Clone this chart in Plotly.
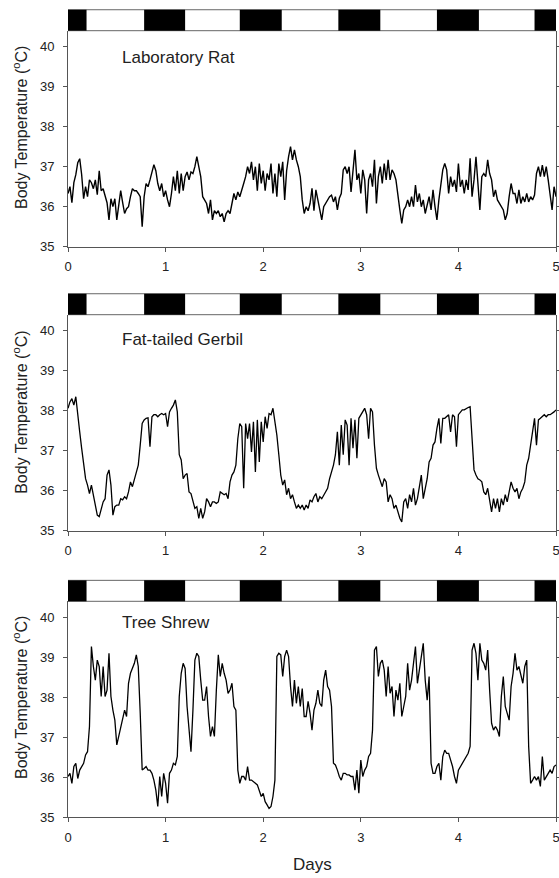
import plotly.graph_objects as go

# ---------------- data ----------------
days = [round(i * 0.02, 2) for i in range(251)]

rat_tb = [
    36.33, 36.5, 36.1, 36.6, 36.8, 37.1, 37.2, 36.8, 36.2, 36.5,
    36.25, 36.67, 36.6, 36.45, 36.67, 36.3, 36.9, 36.4, 36.45, 36.3,
    36.1, 35.67, 36.2, 36.0, 36.2, 35.67, 36.1, 36.4, 36.1, 35.83,
    35.95, 36.0, 36.25, 36.45, 36.4, 36.4, 36.33, 36.25, 35.5, 36.25,
    36.58, 36.5, 36.67, 36.9, 37.05, 36.9, 36.58, 36.4, 36.58, 36.25,
    36.4, 36.17, 36.0, 36.33, 36.75, 36.4, 36.9, 36.33, 36.83, 36.4,
    36.75, 36.87, 36.67, 36.87, 36.83, 37.0, 37.25, 37.0, 36.75, 36.25,
    36.17, 36.08, 35.83, 36.17, 35.67, 35.9, 35.83, 35.9, 35.75, 35.83,
    35.62, 35.83, 35.9, 35.83, 36.08, 36.33, 36.17, 36.37, 36.25, 36.45,
    36.58, 36.75, 37.0, 36.83, 37.12, 36.67, 37.0, 36.4, 37.08, 36.58,
    36.9, 36.4, 36.83, 36.67, 37.08, 36.33, 36.83, 36.25, 37.08, 36.75,
    37.12, 36.17, 36.9, 37.25, 37.5, 37.17, 37.42, 37.17, 37.0, 36.75,
    36.17, 35.83, 36.0, 35.9, 36.08, 36.46, 35.9, 36.42, 36.17, 35.83,
    35.67, 36.0, 36.08, 36.17, 36.25, 36.29, 36.12, 36.25, 35.92, 36.21,
    36.33, 36.92, 37.0, 36.83, 37.0, 36.37, 36.92, 37.42, 36.67, 36.83,
    36.33, 36.92, 36.67, 35.83, 36.67, 36.83, 36.5, 37.17, 36.08, 36.75,
    37.0, 36.58, 37.08, 36.67, 37.17, 36.67, 36.92, 36.83, 36.67, 36.25,
    35.92, 35.58, 35.92, 36.0, 36.17, 36.0, 36.25, 36.0, 36.54, 36.12,
    36.33, 36.0, 36.17, 35.83, 36.04, 36.25, 35.92, 36.42, 36.0, 35.67,
    36.17, 36.5, 36.92, 37.08, 36.92, 36.33, 36.75, 36.5, 36.67, 36.37,
    37.08, 36.5, 36.67, 36.33, 36.67, 36.42, 37.21, 36.25, 36.67, 37.25,
    36.58, 35.92, 36.75, 36.83, 36.75, 37.17, 36.83, 36.67, 36.25, 36.42,
    36.17, 36.08, 36.0, 35.92, 35.67, 35.83, 36.25, 36.58, 36.33, 36.33,
    36.08, 36.42, 36.08, 36.25, 36.12, 36.33, 36.12, 36.25, 36.17, 36.29,
    36.83, 37.0, 36.75, 37.04, 36.75, 37.0, 36.67, 36.33, 35.92, 36.5,
    36.25,
]

gerbil_tb = [
    38.06, 38.22, 38.3, 38.14, 38.35, 37.97, 37.47, 37.06, 36.64, 36.3,
    36.14, 35.93, 36.14, 35.9, 35.64, 35.39, 35.35, 35.56, 35.72, 35.8,
    36.39, 36.52, 36.14, 35.39, 35.6, 35.64, 35.64, 35.8, 35.77, 35.85,
    35.8, 35.97, 36.22, 36.1, 36.3, 36.47, 36.64, 37.14, 37.68, 37.77,
    37.81, 37.82, 37.1, 37.85, 37.9, 37.9, 37.85, 37.9, 37.93, 37.9,
    37.93, 37.6, 37.97, 38.06, 38.14, 38.27, 37.97, 36.9, 36.77, 36.3,
    36.39, 36.43, 35.97, 35.93, 35.72, 35.56, 35.6, 35.31, 35.56, 35.31,
    35.47, 35.8, 35.72, 35.6, 35.72, 35.72, 35.68, 35.72, 35.97, 35.93,
    35.9, 35.93, 35.8, 36.22, 36.39, 36.47, 36.64, 37.3, 37.68, 37.6,
    36.06, 37.68, 37.3, 37.68, 36.97, 37.72, 36.47, 37.77, 36.72, 37.72,
    37.22, 37.85, 37.56, 37.93, 37.9, 38.06, 37.72, 37.39, 36.9, 36.39,
    36.14, 36.27, 35.9, 36.06, 35.8, 35.9, 35.72, 35.56, 35.64, 35.56,
    35.64, 35.52, 35.64, 35.56, 35.77, 35.72, 35.85, 35.93, 35.72, 35.85,
    35.8, 35.9, 35.97, 36.06, 36.3, 36.47, 36.64, 36.9, 37.47, 36.64,
    37.64, 36.9, 37.77, 37.64, 36.64, 37.81, 37.06, 37.77, 36.81, 37.81,
    37.9, 37.97, 38.06, 37.9, 37.3, 38.06, 37.97, 37.14, 36.56, 36.39,
    36.22, 36.1, 36.3, 36.22, 35.72, 35.9, 35.8, 35.56, 35.64, 35.47,
    35.31, 35.22, 35.72, 35.8, 35.56, 35.9, 35.72, 36.06, 35.64, 35.8,
    36.14, 36.39, 35.8, 36.06, 36.3, 36.72, 36.81, 37.14, 37.22, 37.56,
    37.81, 37.18, 37.81, 37.81, 37.85, 37.9, 37.47, 37.9, 37.85, 37.1,
    37.9, 37.97, 38.02, 38.02, 38.06, 38.08, 38.1, 37.22, 36.52, 36.39,
    36.3, 36.27, 36.22, 35.97, 35.9, 36.06, 35.8, 35.47, 35.8, 35.56,
    35.8, 35.47, 35.8, 35.64, 35.9, 35.72, 35.97, 36.22, 36.06, 35.97,
    36.06, 35.8, 35.97, 36.06, 36.22, 36.64, 36.81, 37.14, 37.47, 37.81,
    37.14, 37.77, 37.81, 37.85, 37.9, 37.85, 37.9, 37.9, 37.93, 37.97,
    38.02,
]

shrew_tb = [
    36.02, 36.1, 35.85, 36.27, 36.35, 35.97, 36.18, 36.27, 36.35, 36.56,
    36.64, 37.27, 39.27, 38.77, 38.43, 38.93, 38.77, 38.02, 38.77, 38.02,
    38.18, 39.1, 38.02, 37.68, 37.43, 36.81, 37.02, 37.27, 37.43, 37.68,
    37.52, 38.35, 38.6, 38.72, 38.85, 39.06, 38.77, 37.6, 36.18, 36.22,
    36.27, 36.18, 36.18, 36.1, 35.93, 35.68, 35.27, 36.02, 35.52, 36.1,
    35.85, 35.35, 36.1, 36.18, 36.35, 36.31, 36.52, 38.02, 38.6, 38.85,
    38.72, 37.77, 37.27, 36.64, 37.68, 38.93, 39.1, 39.02, 38.43, 37.93,
    37.93, 38.27, 37.52, 37.02, 37.27, 37.02, 38.18, 39.06, 38.52, 38.85,
    38.6, 38.43, 38.1, 38.18, 38.35, 37.77, 37.68, 36.18, 35.85, 36.02,
    36.02, 35.93, 36.27, 35.93, 35.93, 35.9, 35.85, 35.81, 35.68, 35.52,
    35.6, 35.39, 35.31, 35.22, 35.27, 35.52, 35.93, 39.02, 39.1, 39.06,
    38.52, 39.02, 39.18, 39.02, 38.27, 37.77, 38.43, 37.85, 38.27, 37.77,
    38.22, 37.52, 37.52, 37.9, 37.6, 37.18, 37.68, 37.85, 38.18, 37.85,
    37.77, 38.43, 38.68, 38.27, 38.18, 37.77, 36.35, 36.31, 36.18, 36.02,
    35.93, 36.1, 36.1, 36.06, 36.06, 36.02, 36.02, 35.68, 36.18, 35.6,
    36.43, 36.02, 36.18, 36.27, 36.52, 36.6, 37.18, 39.18, 39.27, 38.52,
    38.85, 38.93, 38.68, 38.02, 38.77, 38.1, 38.27, 37.52, 38.18, 37.93,
    38.35, 37.52, 37.77, 38.02, 38.85, 38.18, 38.43, 38.85, 39.27, 38.35,
    38.68, 38.93, 39.35, 38.43, 37.93, 38.52, 36.35, 36.1, 36.1, 36.27,
    36.35, 35.93, 36.52, 36.68, 36.6, 36.6, 36.43, 36.27, 36.02, 35.85,
    36.18, 36.27, 36.35, 36.43, 36.52, 36.6, 36.77, 39.18, 39.35, 39.1,
    38.43, 39.35, 38.93, 38.85, 38.68, 39.18, 38.18, 37.35, 37.18, 37.27,
    37.18, 37.02, 38.02, 38.52, 37.77, 37.6, 37.43, 38.27, 38.6, 39.1,
    38.68, 38.77, 38.52, 38.35, 38.77, 38.93, 36.77, 35.85, 35.93, 36.02,
    35.93, 36.02, 35.77, 36.52, 35.93, 36.02, 36.1, 36.18, 36.1, 36.27,
    36.31,
]

species = ["Laboratory Rat", "Fat-tailed Gerbil", "Tree Shrew"]
series = [rat_tb, gerbil_tb, shrew_tb]

# dark (night) periods, days
dark_start = [0.0, 0.78, 1.76, 2.77, 3.78, 4.78]
dark_end = [0.19, 1.20, 2.19, 3.20, 4.21, 5.0]

x_ticks = [0, 1, 2, 3, 4, 5]
y_ticks = [35, 36, 37, 38, 39, 40]

# ---------------- layout geometry ----------------
W, H = 559, 878
FONT = "Liberation Sans, Arial, sans-serif"
TXT = "#222222"
AX = "#555555"

panels_px = [(30.7, 246.7), (314.7, 530.7), (601.3, 817.3)]
x_dom = [68 / W, 556 / W]
title_y_px = [128, 412.8, 698]
label_y = [39.74, 39.77, 39.86]
line_w = [1.4, 1.3, 1.3]

fig = go.Figure()
layout = dict(
    width=W, height=H,
    margin=dict(l=0, r=0, t=0, b=0, autoexpand=False),
    paper_bgcolor="white", plot_bgcolor="white",
    showlegend=False,
    font=dict(family=FONT, color=TXT, size=13),
)
shapes = []
annotations = []

for i, (name, vals) in enumerate(zip(species, series)):
    n = "" if i == 0 else str(i + 1)
    xa, ya = "x" + n, "y" + n
    fig.add_trace(go.Scatter(
        x=days, y=vals, mode="lines", xaxis=xa, yaxis=ya,
        line=dict(color="black", width=line_w[i]), hoverinfo="skip",
    ))
    top, bot = panels_px[i]
    layout["xaxis" + n] = dict(
        domain=x_dom, range=[0, 5], anchor=ya, automargin=False,
        tickvals=x_ticks, ticks="outside", ticklen=4, tickcolor=AX,
        showline=True, linecolor=AX, linewidth=1,
        showgrid=False, zeroline=False,
        tickfont=dict(size=13, color=TXT, family=FONT),
        ticklabelstandoff=4, ticklabeloverflow="allow",
    )
    layout["yaxis" + n] = dict(
        domain=[1 - bot / H, 1 - top / H], range=[35, 40.4], anchor=xa,
        automargin=False,
        tickvals=y_ticks, ticks="outside", ticklen=4, tickcolor=AX,
        showline=True, linecolor=AX, linewidth=1, mirror="allticks",
        showgrid=False, zeroline=False,
        tickfont=dict(size=13, color=TXT, family=FONT),
        ticklabelstandoff=6,
    )
    # light/dark bar
    shapes.append(dict(type="rect", xref=xa, yref=ya + " domain",
                       x0=0, x1=5, y0=1.0, y1=1.097,
                       fillcolor="white", line=dict(color="#666666", width=1)))
    for s, e in zip(dark_start, dark_end):
        shapes.append(dict(type="rect", xref=xa, yref=ya + " domain",
                           x0=s, x1=e, y0=1.0, y1=1.097,
                           fillcolor="black", line=dict(width=0)))
    annotations.append(dict(text=name, xref=xa, yref=ya, x=0.53, y=label_y[i],
                            xanchor="left", yanchor="middle", showarrow=False,
                            font=dict(size=17, color=TXT, family=FONT)))
    annotations.append(dict(text="Body Temperature (<sup>o</sup>C)",
                            xref="paper", yref="paper",
                            x=20 / W, y=1 - title_y_px[i] / H,
                            xanchor="center", yanchor="middle", textangle=-90,
                            showarrow=False,
                            font=dict(size=16, color=TXT, family=FONT)))

annotations.append(dict(text="Days", xref="paper", yref="paper",
                        x=312 / W, y=1 - 864 / H, xanchor="center",
                        yanchor="middle", showarrow=False,
                        font=dict(size=17, color=TXT, family=FONT)))

layout["shapes"] = shapes
layout["annotations"] = annotations
fig.update_layout(**layout)
fig.write_html(
    "out.html",
    config={"displayModeBar": False},
    post_script="document.body.style.margin='0';document.body.style.overflow='hidden';",
)
